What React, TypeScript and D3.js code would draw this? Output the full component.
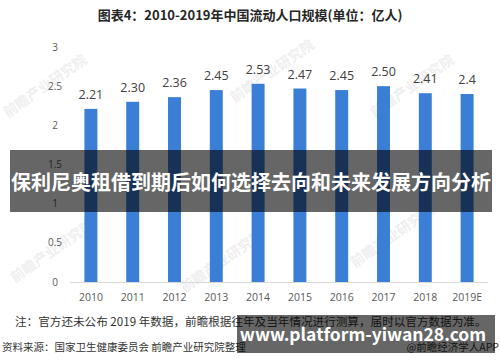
import { useEffect, useRef } from "react";
import * as d3 from "d3";

const years = ["2010", "2011", "2012", "2013", "2014", "2015", "2016", "2017", "2018", "2019E"];
const values = [2.21, 2.3, 2.36, 2.45, 2.53, 2.47, 2.45, 2.5, 2.41, 2.4];
const valueLabels = ["2.21", "2.30", "2.36", "2.45", "2.53", "2.47", "2.45", "2.50", "2.41", "2.4"];
const yTicks = [0, 0.5, 1, 1.5, 2, 2.5, 3];

const title = "图表4：2010-2019年中国流动人口规模(单位：亿人)";
const overlayTitle = "保利尼奥租借到期后如何选择去向和未来发展方向分析";
const note = "注：官方还未公布 2019 年数据，前瞻根据往年及当年情况进行测算，届时以官方数据为准。";
const source = "资料来源：国家卫生健康委员会 前瞻产业研究院整理";
const credit = "@前瞻经济学人APP";
const siteText = "www.platform-yiwan28.com";

const W = 500;
const H = 362;
const cjk = "'Noto Sans CJK SC', 'Noto Sans', sans-serif";
const barColor = "#3a7ed6";

export default function App() {
  const svgRef = useRef<SVGSVGElement | null>(null);

  useEffect(() => {
    const svg = d3.select(svgRef.current);
    svg.selectAll("*").remove();

    svg.append("rect").attr("width", W).attr("height", H).attr("fill", "#fff");

    // faint watermarks
    const wm = svg.append("g").attr("fill", "#efefef").style("font", `bold 14px ${cjk}`);
    [[48, 90], [275, 75], [415, 90], [55, 255], [225, 265], [395, 240]].forEach(([x, y]) => {
      wm.append("text")
        .attr("transform", `translate(${x},${y}) rotate(-35)`)
        .attr("text-anchor", "middle")
        .text("前瞻产业研究院");
    });

    const x = d3.scaleBand<string>()
      .domain(years)
      .range([70, 488])
      .paddingInner(0.69)
      .paddingOuter(0.345);

    const y = d3.scaleLinear().domain([0, 3]).range([282, 47]);

    svg.append("text")
      .attr("x", 250)
      .attr("y", 20)
      .attr("text-anchor", "middle")
      .attr("fill", "#262626")
      .style("font", `bold 13px ${cjk}`)
      .text(title);

    // y tick labels
    svg.append("g")
      .selectAll("text")
      .data(yTicks)
      .enter()
      .append("text")
      .attr("x", 55)
      .attr("y", d => y(d) + 3.5)
      .attr("text-anchor", "middle")
      .attr("fill", "#595959")
      .style("font", "10px 'Open Sans', sans-serif")
      .text(d => String(d));

    // baseline
    svg.append("line")
      .attr("x1", 70).attr("x2", 488)
      .attr("y1", y(0) + 0.5).attr("y2", y(0) + 0.5)
      .attr("stroke", "#d9d9d9");

    svg.append("g")
      .selectAll("rect")
      .data(values)
      .enter()
      .append("rect")
      .attr("x", (_, i) => x(years[i]) as number)
      .attr("y", d => y(d))
      .attr("width", x.bandwidth())
      .attr("height", d => y(0) - y(d))
      .attr("fill", barColor);

    svg.append("g")
      .selectAll("text")
      .data(values)
      .enter()
      .append("text")
      .attr("x", (_, i) => (x(years[i]) as number) + x.bandwidth() / 2)
      .attr("y", d => y(d) - 10)
      .attr("text-anchor", "middle")
      .attr("fill", "#404040")
      .style("font", "12.5px 'Open Sans', sans-serif")
      .text((_, i) => valueLabels[i]);

    svg.append("g")
      .selectAll("text")
      .data(years)
      .enter()
      .append("text")
      .attr("x", d => (x(d) as number) + x.bandwidth() / 2)
      .attr("y", 301)
      .attr("text-anchor", "middle")
      .attr("fill", "#595959")
      .style("font", "10.5px 'Open Sans', sans-serif")
      .text(d => d);

    svg.append("text")
      .attr("x", 15)
      .attr("y", 326)
      .attr("fill", "#333")
      .style("font", `11.6px ${cjk}`)
      .text(note);

    svg.append("text")
      .attr("x", 2)
      .attr("y", 351)
      .attr("fill", "#333")
      .style("font", `10.5px ${cjk}`)
      .text(source);

    svg.append("text")
      .attr("x", 499)
      .attr("y", 351)
      .attr("text-anchor", "end")
      .attr("fill", "#333")
      .style("font", `10.5px ${cjk}`)
      .text(credit);

    // dark overlays
    svg.append("rect")
      .attr("x", 10).attr("y", 150)
      .attr("width", 482).attr("height", 62)
      .attr("fill", "#000").attr("fill-opacity", 0.6);

    svg.append("text")
      .attr("x", 251)
      .attr("y", 190)
      .attr("text-anchor", "middle")
      .attr("fill", "#fff")
      .style("font", `bold 20px ${cjk}`)
      .text(overlayTitle);

    svg.append("rect")
      .attr("x", 237).attr("y", 315)
      .attr("width", 258).attr("height", 38)
      .attr("fill", "#000").attr("fill-opacity", 0.6);

    svg.append("text")
      .attr("x", 363)
      .attr("y", 341)
      .attr("text-anchor", "middle")
      .attr("fill", "#fff")
      .style("font", `bold 17.5px ${cjk}`)
      .text(siteText);
  }, []);

  return (
    <svg
      ref={svgRef}
      width={W}
      height={H}
      style={{ position: "absolute", left: 0, top: 0, display: "block" }}
    />
  );
}
